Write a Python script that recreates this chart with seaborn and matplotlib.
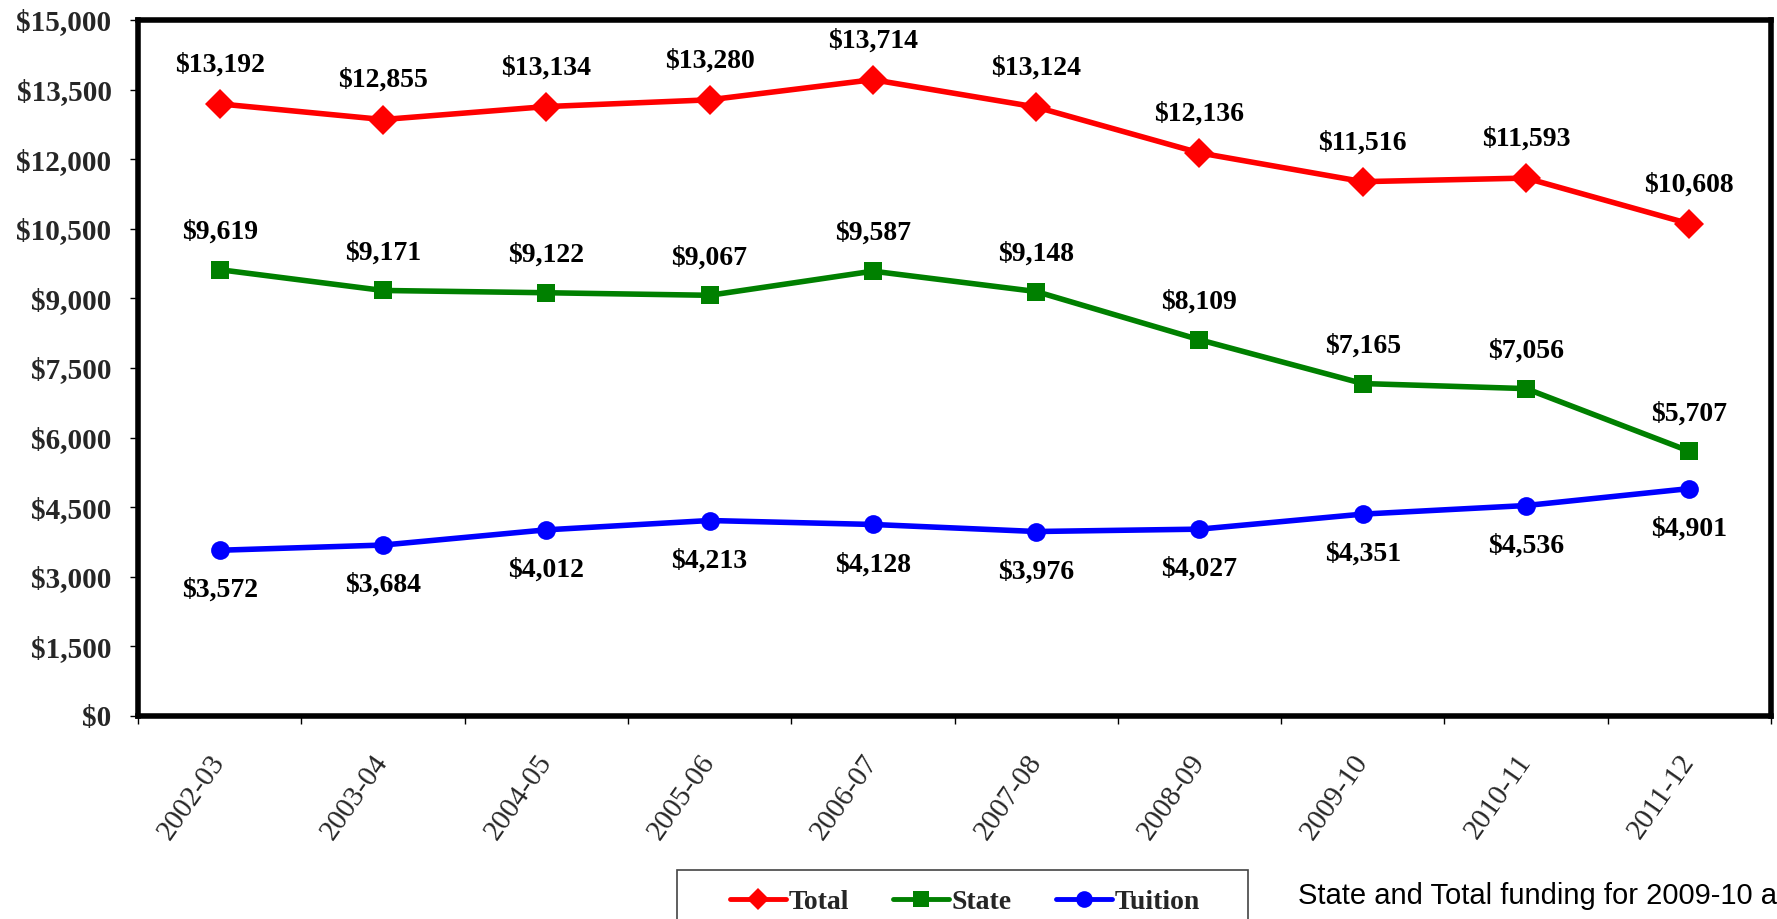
import matplotlib
matplotlib.use("Agg")
import matplotlib.pyplot as plt
from matplotlib.patches import Rectangle
from matplotlib.ticker import FixedLocator, FuncFormatter
import seaborn as sns
import pandas as pd
import numpy as np

years = ['2002-03', '2003-04', '2004-05', '2005-06', '2006-07',
         '2007-08', '2008-09', '2009-10', '2010-11', '2011-12']
total = [13192, 12855, 13134, 13280, 13714, 13124, 12136, 11516, 11593, 10608]
state = [9619, 9171, 9122, 9067, 9587, 9148, 8109, 7165, 7056, 5707]
tuition = [3572, 3684, 4012, 4213, 4128, 3976, 4027, 4351, 4536, 4901]
y_ticks = list(range(0, 15001, 1500))
note = "State and Total funding for 2009-10 a"

sns.set_style("white")
plt.rcParams['font.family'] = ['Liberation Serif', 'DejaVu Serif']

df = pd.DataFrame({'Year': years, 'Total': total, 'State': state, 'Tuition': tuition})

W, H = 1777, 919
fig = plt.figure(figsize=(W / 100, H / 100), dpi=100)
ax = fig.add_axes([138 / W, 1 - 716 / H, (1771 - 138) / W, (716 - 20) / H])

series = [
    ('Total', '#FF0000', 'D', 15, 28),
    ('State', '#008000', 's', 13, 27),
    ('Tuition', '#0000FF', 'o', 13.5, -29),
]
for name, color, marker, ms, off in series:
    sns.lineplot(data=df, x='Year', y=name, ax=ax, color=color, linewidth=4,
                 marker=marker, markersize=ms, markeredgewidth=0, label=name,
                 sort=False, errorbar=None)
    for i, v in enumerate(df[name]):
        ax.annotate(f'${v:,}', (i, v), xytext=(0, off), textcoords='offset points',
                    ha='center', va='center', fontsize=20, fontweight='bold',
                    color='black')

ax.set_xlim(-0.5, len(years) - 0.5)
ax.set_ylim(0, 15000)
ax.set_yticks(y_ticks)
ax.yaxis.set_major_formatter(FuncFormatter(lambda v, p: f'${v:,.0f}'))
ax.set_xlabel('')
ax.set_ylabel('')

ax.set_xticks(range(len(years)))
ax.set_xticklabels(years, rotation=55, ha='right', va='center',
                   rotation_mode='anchor', fontsize=21)
ax.xaxis.set_minor_locator(FixedLocator(np.arange(-0.5, len(years), 1.0)))
ax.tick_params(axis='x', which='major', length=0, pad=30)
ax.tick_params(axis='x', which='minor', length=6, width=1, color='black', bottom=True)
ax.tick_params(axis='y', which='major', length=6, width=1, color='black', left=True,
               pad=13, labelsize=21)
for lab in ax.get_yticklabels():
    lab.set_fontweight('bold')

for sp in ax.spines.values():
    sp.set_visible(True)
    sp.set_color('black')
    sp.set_linewidth(4)

handles, labels = ax.get_legend_handles_labels()
leg = ax.legend(handles, labels, loc='center', bbox_to_anchor=(965 / W, 1 - 902 / H),
                bbox_transform=fig.transFigure, ncol=3, frameon=False,
                prop={'family': 'Liberation Serif', 'weight': 'bold', 'size': 20},
                handlelength=2.0, handletextpad=0.1, columnspacing=1.6)
for h, ms in zip(leg.legend_handles, [11, 11, 12]):
    h.set_markersize(ms)
    h.set_linewidth(3.5)

fig.patches.append(Rectangle((677 / W, -0.1), (1248 - 677) / W, 0.1 + 1 - 870 / H,
                             transform=fig.transFigure, fill=False,
                             edgecolor='#444444', linewidth=1.2))

fig.text(1298 / W, 1 - 896 / H, note, ha='left', va='center', fontsize=21,
         family=['Liberation Sans', 'DejaVu Sans'], color='black')

fig.savefig('out.png', dpi=100)
